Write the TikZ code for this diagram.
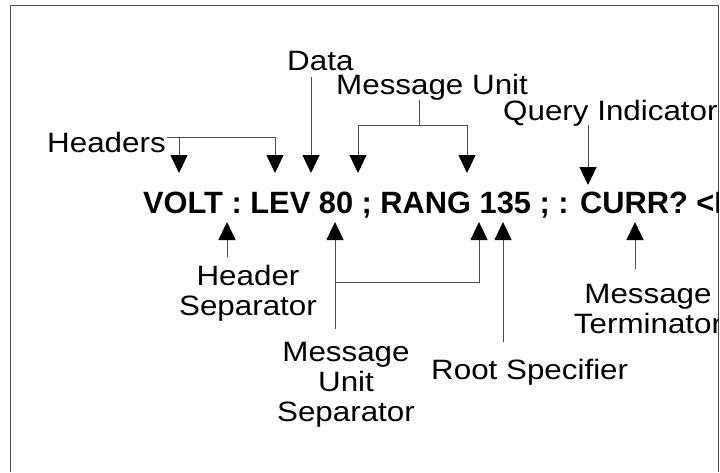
\documentclass[tikz,border=0pt]{standalone}
\usepackage{fontspec}
\setmainfont{Liberation Sans}
\newfontfamily\labfont[FakeStretch=1.12]{Liberation Sans}
\usetikzlibrary{arrows.meta}
\begin{document}
\begin{tikzpicture}[x=1pt,y=-1pt,
  lab/.style={inner sep=0pt,font=\labfont\fontsize{28}{30}\selectfont,align=center},
  cmd/.style={inner sep=0pt,font=\fontsize{30.8}{32}\selectfont\bfseries},
  conn/.style={draw=black!70,line width=0.9pt},
  arr/.style={conn,-{Triangle[length=18pt,width=17pt,color=black]}}]
\useasboundingbox (0,0) rectangle (720,472);
\fill[white] (0,0) rectangle (720,472);
\draw[black!70,line width=1pt] (10,472) -- (10,5) -- (718,5) -- (718,472);
\begin{scope}
\clip (10,5) rectangle (718,472);
% main command line
\node[cmd,anchor=base west] (cmd) at (143,213) {VOLT : LEV 80 ; RANG 135 ; : CURR? <NL>};
% labels above
\node[lab,anchor=base west] (headers) at (47,152) {Headers};
\node[lab,anchor=base west] (data) at (287,70) {Data};
\node[lab,anchor=base west] (mu) at (336,94) {Message Unit};
\node[lab,anchor=base west] (qi) at (503,120) {Query Indicator};
% labels below
\node[lab,anchor=north] (hs) at (248,265) {Header\\Separator};
\node[lab,anchor=north] (mus) at (346,342) {Message\\Unit\\Separator};
\node[lab,anchor=base west] (rs) at (431,379) {Root Specifier};
\node[lab,anchor=north] (mt) at (648,284) {Message\\Terminator};
% coordinates
\coordinate (hbarL) at (167,137);
\coordinate (hbarA) at (179,137);
\coordinate (hbarR) at (275,137);
\coordinate (hT1) at (179,173);
\coordinate (hT2) at (275,173);
\coordinate (dS) at (311,77);
\coordinate (dT) at (311,173);
\coordinate (muS) at (419,100);
\coordinate (muM) at (419,125);
\coordinate (muL) at (358,125);
\coordinate (muR) at (467,125);
\coordinate (muT1) at (358,173);
\coordinate (muT2) at (467,173);
\coordinate (qS) at (588,125);
\coordinate (qT) at (588,185);
\coordinate (hsS) at (227,257);
\coordinate (hsT) at (227,222);
\coordinate (musS) at (335,329);
\coordinate (musT1) at (335,222);
\coordinate (musB) at (335,282);
\coordinate (musR) at (479,282);
\coordinate (musT2) at (479,222);
\coordinate (rsS) at (503,342);
\coordinate (rsT) at (503,222);
\coordinate (mtS) at (635,269);
\coordinate (mtT) at (635,222);
% connectors above
\draw[conn] (hbarL) -- (hbarR);
\draw[arr] (hbarA) -- (hT1);
\draw[arr] (hbarR) -- (hT2);
\draw[arr] (dS) -- (dT);
\draw[conn] (muS) -- (muM);
\draw[conn] (muL) -- (muR);
\draw[arr] (muL) -- (muT1);
\draw[arr] (muR) -- (muT2);
\draw[arr] (qS) -- (qT);
% connectors below
\draw[arr] (hsS) -- (hsT);
\draw[arr] (musS) -- (musT1);
\draw[arr] (musB) -- (musR) -- (musT2);
\draw[arr] (rsS) -- (rsT);
\draw[arr] (mtS) -- (mtT);
\end{scope}
\end{tikzpicture}
\end{document}
